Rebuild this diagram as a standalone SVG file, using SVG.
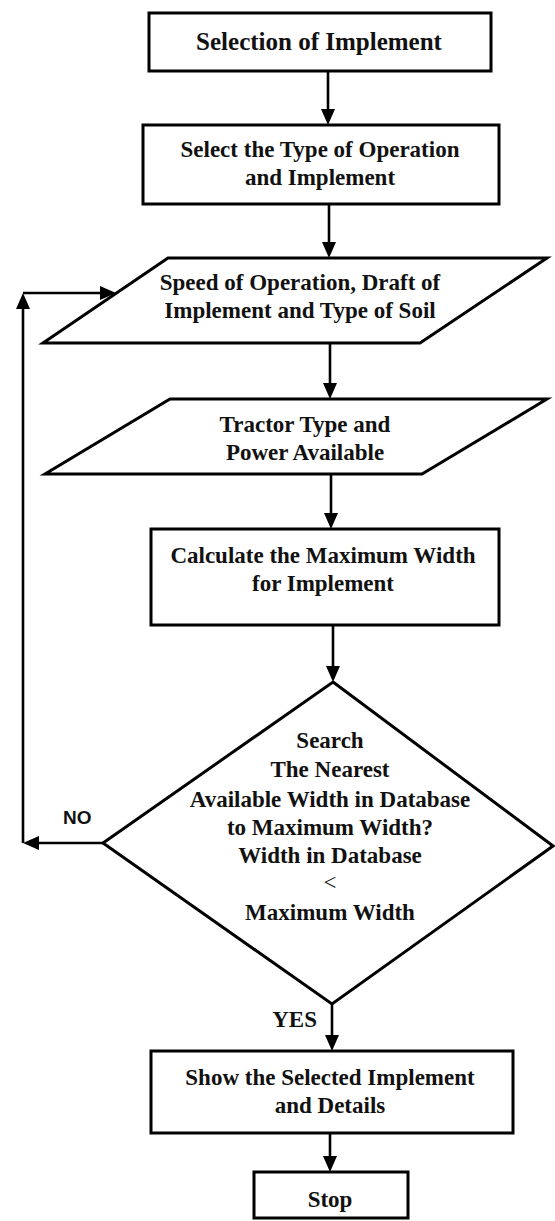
<svg xmlns="http://www.w3.org/2000/svg" width="555" height="1221" viewBox="0 0 555 1221">
<style>
.shape{fill:#fff;stroke:#000;stroke-width:3}
.edge{fill:none;stroke:#000;stroke-width:2.6;marker-end:url(#ah)}
.t{font-family:"Liberation Serif","Times New Roman",serif;font-weight:bold;font-size:23px;text-anchor:middle;fill:#111}
.lbl{font-family:"Liberation Sans",Arial,sans-serif;font-weight:bold;font-size:19px;fill:#111}
</style>
<defs>
<marker id="ah" markerUnits="userSpaceOnUse" markerWidth="16" markerHeight="14" refX="10" refY="7" orient="auto">
<path d="M0,0 L16,7 L0,14 z" fill="#000"/>
</marker>
</defs>
<rect width="555" height="1221" fill="#fff"/>
<g id="connectors">
<path class="edge" d="M328,71 V119"/>
<path class="edge" d="M329,204 V252"/>
<path class="edge" d="M330,343 V393"/>
<path class="edge" d="M331,474 V523"/>
<path class="edge" d="M333,625 V676"/>
<path class="edge" d="M332,1004 V1045"/>
<path class="edge" d="M330,1133 V1166"/>
<path class="edge" d="M103,843 H29"/>
<path class="edge" d="M23,843 V299"/>
<path class="edge" d="M23,293 H110"/>
<text class="lbl" x="63" y="824">NO</text>
<text class="t" x="317" y="1027" style="text-anchor:end">YES</text>
</g>
<g id="n1">
<rect class="shape" x="149" y="13" width="342" height="58"/>
<text class="t" x="319" y="50" style="font-size:25px">Selection of Implement</text>
</g>
<g id="n2">
<rect class="shape" x="143" y="125" width="356" height="79"/>
<text class="t" x="320" y="157">Select the Type of Operation</text>
<text class="t" x="320" y="185">and Implement</text>
</g>
<g id="n3">
<polygon class="shape" points="168,258 547,258 420,343 43,343"/>
<text class="t" x="300" y="290">Speed of Operation, Draft of</text>
<text class="t" x="300" y="318">Implement and Type of Soil</text>
</g>
<g id="n4">
<polygon class="shape" points="170,399 547,399 422,474 45,474"/>
<text class="t" x="305" y="432">Tractor Type and</text>
<text class="t" x="305" y="460">Power Available</text>
</g>
<g id="n5">
<rect class="shape" x="151" y="529" width="348" height="96"/>
<text class="t" x="323" y="563">Calculate the Maximum Width</text>
<text class="t" x="323" y="591">for Implement</text>
</g>
<g id="n6">
<polygon class="shape" points="333,682 553,846 332,1004 103,843"/>
<text class="t" x="330" y="748">Search</text>
<text class="t" x="330" y="777">The Nearest</text>
<text class="t" x="330" y="807">Available Width in Database</text>
<text class="t" x="330" y="835">to Maximum Width?</text>
<text class="t" x="330" y="863">Width in Database</text>
<text class="t" x="330" y="890" style="font-weight:normal">&lt;</text>
<text class="t" x="330" y="920">Maximum Width</text>
</g>
<g id="n7">
<rect class="shape" x="151" y="1051" width="362" height="82"/>
<text class="t" x="330" y="1085">Show the Selected Implement</text>
<text class="t" x="330" y="1113">and Details</text>
</g>
<g id="n8">
<rect class="shape" x="254" y="1172" width="154" height="46"/>
<text class="t" x="330" y="1207">Stop</text>
</g>
</svg>
